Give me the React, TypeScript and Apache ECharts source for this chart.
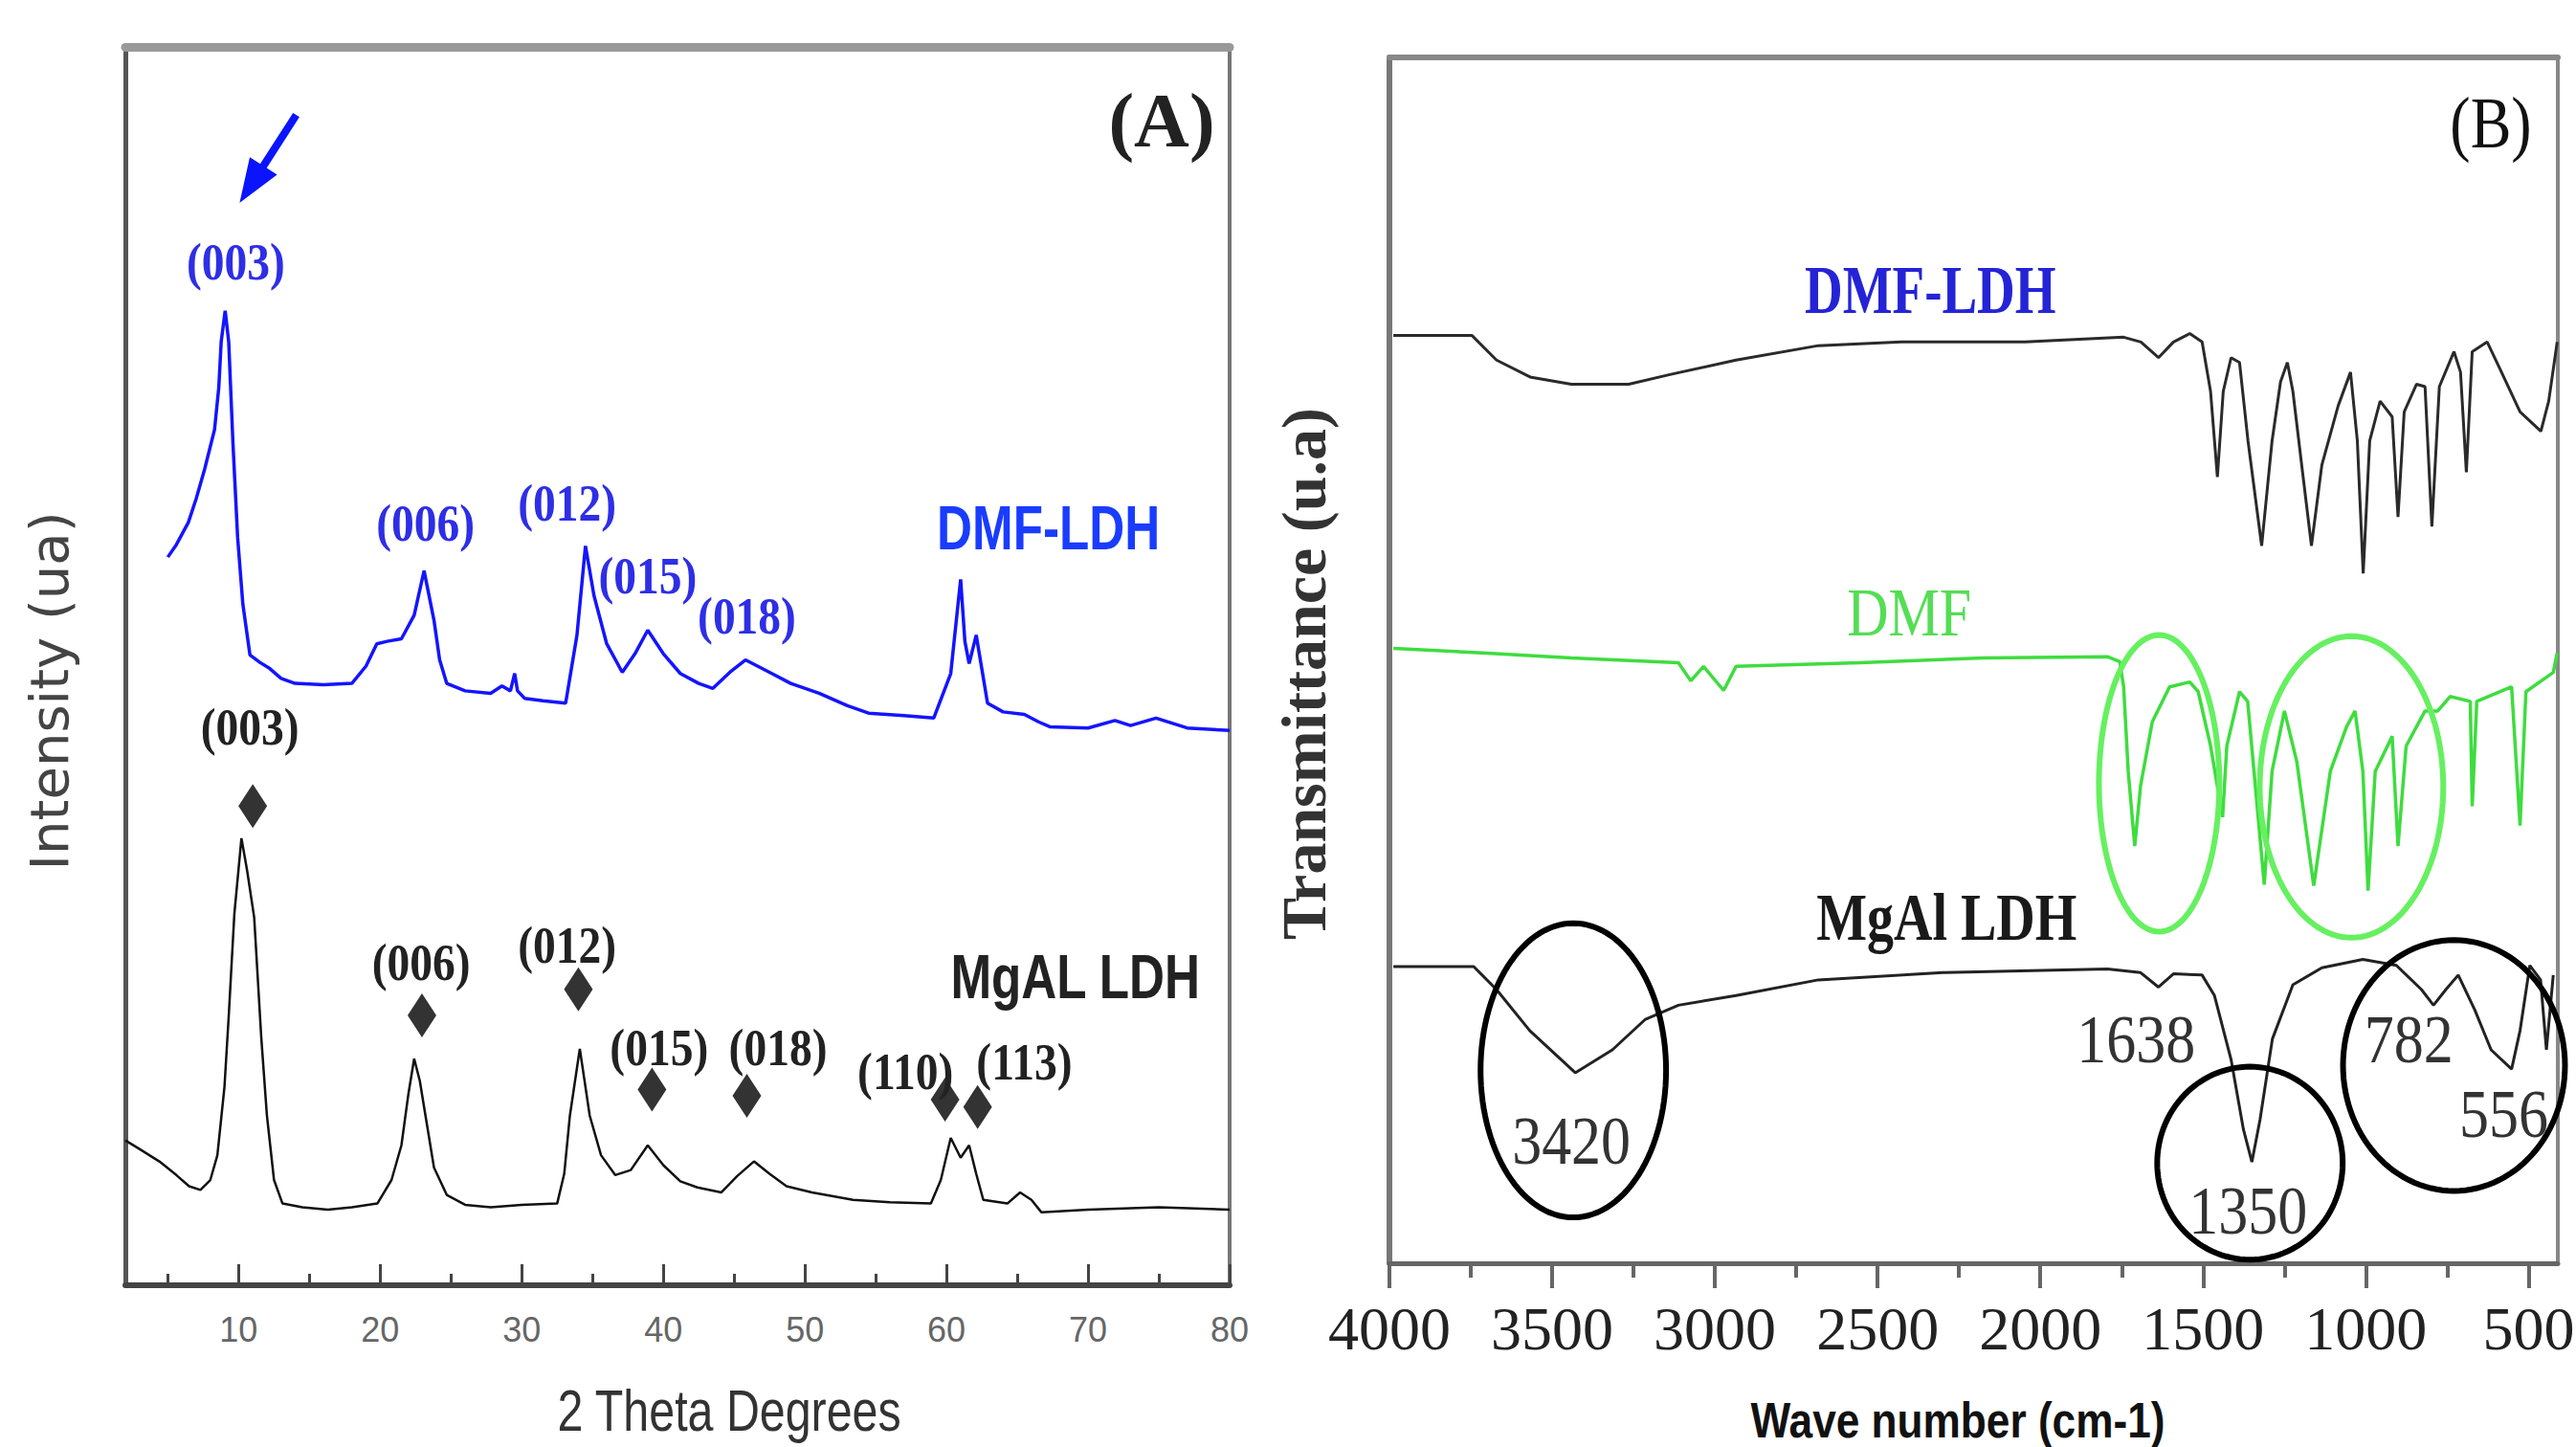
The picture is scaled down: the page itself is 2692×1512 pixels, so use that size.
import React, { useEffect, useRef } from 'react';
import * as echarts from 'echarts';

// ---------------- Panel A : XRD ----------------
const xrdDmfLdh: [number, number][] = [
  [5.0, 58.8], [5.6, 59.8], [6.45, 61.6], [7.0, 63.5], [7.6, 65.9], [8.3, 69.1], [8.6, 72.5], [8.77, 76.2],
  [9.05, 78.7], [9.3, 76.2], [9.6, 68], [9.93, 60.4], [10.3, 55], [10.8, 50.9], [11.5, 50.3], [12.2, 49.8],
  [13.0, 49.0], [13.98, 48.6], [16.0, 48.5], [18.0, 48.6], [19.0, 50.0], [19.76, 51.8], [20.5, 52.0],
  [21.5, 52.2], [22.4, 54.1], [23.1, 57.7], [23.8, 53.7], [24.2, 50.5], [24.7, 48.6], [26.0, 48.0],
  [27.8, 47.8], [28.6, 48.4], [29.2, 48.0], [29.5, 49.4], [29.7, 48.0], [30.2, 47.4], [31.5, 47.2],
  [33.1, 47.0], [33.9, 52.5], [34.5, 59.7], [35.1, 55.7], [36.0, 51.8], [37.1, 49.5], [38.0, 51.0],
  [38.9, 52.9], [40.0, 51.0], [41.2, 49.4], [42.5, 48.6], [43.5, 48.2], [44.7, 49.5], [45.8, 50.5],
  [47.5, 49.5], [49.0, 48.6], [51.0, 47.8], [53.0, 46.8], [54.5, 46.2], [57.0, 46.0], [59.1, 45.8],
  [60.3, 49.4], [61.0, 57.0], [61.3, 52.0], [61.6, 50.2], [62.1, 52.5], [62.9, 47.0], [64.0, 46.3],
  [65.5, 46.1], [66.5, 45.5], [67.3, 45.1], [70.0, 45.0], [71.9, 45.6], [73.0, 45.2], [74.8, 45.8],
  [77.0, 45.0], [80, 44.8],
];
const xrdMgAl: [number, number][] = [
  [2.0, 11.7], [3.0, 11.0], [4.4, 10.0], [5.6, 8.9], [6.5, 8.0], [7.3, 7.7], [8.0, 8.5], [8.5, 10.5],
  [9.0, 16], [9.3, 21.7], [9.7, 30], [10.2, 36.1], [10.6, 33.5], [11.1, 29.7], [11.6, 20], [12.0, 13.7],
  [12.5, 8.5], [13.1, 6.6], [14.5, 6.3], [16.3, 6.1], [18.0, 6.3], [19.8, 6.6], [20.8, 8.5], [21.5, 11.3],
  [22.0, 15.5], [22.4, 18.3], [22.8, 16.5], [23.2, 13.7], [23.8, 9.5], [24.7, 7.3], [26.0, 6.5],
  [27.8, 6.3], [30.0, 6.5], [32.5, 6.6], [33.0, 9.0], [33.4, 13.7], [34.1, 19.1], [34.8, 13.7],
  [35.6, 10.5], [36.6, 8.9], [37.7, 9.3], [38.9, 11.3], [40.0, 9.7], [41.2, 8.4], [42.4, 7.9],
  [44.1, 7.5], [45.2, 8.8], [46.4, 10.0], [47.5, 9.0], [48.7, 8.0], [50.5, 7.5], [53.4, 6.9],
  [56.0, 6.7], [58.9, 6.6], [59.6, 8.5], [60.3, 11.9], [61.0, 10.3], [61.6, 11.3], [62.1, 9.0],
  [62.6, 6.9], [64.3, 6.6], [65.2, 7.5], [66.0, 6.9], [66.7, 5.9], [70, 6.1], [75, 6.3], [80, 6.1],
];
const xrdTicks = [10, 20, 30, 40, 50, 60, 70, 80];
const xrdMinorTicks = [5, 15, 25, 35, 45, 55, 65, 75];
const xrdDiamonds: [number, number][] = [
  [11.0, 38.7], [22.95, 21.8], [34.0, 23.9], [39.2, 15.8], [45.9, 15.3], [59.9, 15.0], [62.2, 14.4],
];
const xrdBlueIndexLabels = ['(003)', '(006)', '(012)', '(015)', '(018)'];
const xrdBlueIndexAnchors: [number, number][] = [
  [9.8, 82.7], [23.2, 61.6], [33.2, 63.2], [38.9, 57.3], [45.9, 54.1],
];
const xrdBlackIndexLabels = ['(003)', '(006)', '(012)', '(015)', '(018)', '(110)', '(113)'];
const xrdBlackIndexAnchors: [number, number][] = [
  [10.8, 45.1], [22.9, 26.1], [33.2, 27.5], [39.7, 19.2], [48.1, 19.2], [57.1, 17.3], [65.5, 18.1],
];
const xrdSampleLabels = ['DMF-LDH', 'MgAL LDH'];
const xrdSampleAnchors: [number, number][] = [[67.2, 61.1], [69.1, 24.9]];
const xrdArrow: [number, number, number, number][] = [[14.07, 94.5, 10.07, 87.4]];

// ---------------- Panel B : FTIR ----------------
const ftirDmfLdh: [number, number][] = [
  [3988, 76.95], [3747, 76.95], [3671, 74.9], [3568, 73.5], [3441, 72.9], [3265, 72.9], [3138, 73.7],
  [2935, 74.9], [2682, 76.1], [2427, 76.4], [2047, 76.4], [1744, 76.8], [1691, 76.4], [1637, 75.1],
  [1591, 76.4], [1541, 77.1], [1503, 76.4], [1477, 72.3], [1456, 65.2], [1438, 72.3], [1414, 75.1],
  [1388, 74.7], [1362, 68.2], [1320, 59.5], [1288, 68.2], [1262, 73.1], [1241, 74.7], [1224, 72.3],
  [1197, 66.2], [1167, 59.5], [1135, 66.2], [1085, 71.1], [1047, 73.9], [1026, 68.2], [1008, 57.2],
  [988, 68.2], [956, 71.5], [919, 70.2], [901, 61.9], [882, 70.6], [844, 72.9], [818, 72.7], [797, 61.1],
  [774, 72.7], [729, 75.6], [709, 73.9], [691, 65.6], [673, 75.6], [627, 76.4], [590, 74.3], [526, 70.6],
  [462, 69.0], [438, 71.5], [412, 76.4],
];
const ftirDmf: [number, number][] = [
  [3988, 51.0], [3700, 50.6], [3441, 50.2], [3112, 49.8], [3074, 48.3], [3035, 49.5], [2973, 47.5],
  [2935, 49.5], [2554, 49.8], [2173, 50.2], [1794, 50.3], [1756, 49.9], [1744, 47.8], [1730, 40.8],
  [1710, 34.6], [1692, 39.6], [1656, 44.9], [1603, 47.8], [1541, 48.2], [1515, 47.4], [1477, 42.9],
  [1440, 37.0], [1427, 42.9], [1388, 47.4], [1363, 46.6], [1312, 31.4], [1288, 40.8], [1250, 45.8],
  [1212, 41.6], [1160, 31.3], [1109, 40.8], [1059, 44.5], [1033, 45.8], [1009, 40.8], [993, 30.9],
  [971, 40.8], [919, 43.7], [901, 34.6], [876, 42.9], [818, 45.8], [779, 45.8], [741, 47.0], [679, 46.6],
  [673, 37.9], [659, 46.6], [552, 47.8], [526, 36.3], [508, 47.4], [424, 49.0], [412, 50.6],
];
const ftirMgAl: [number, number][] = [
  [3988, 24.6], [3741, 24.6], [3671, 22.7], [3569, 19.3], [3429, 15.8], [3315, 17.7], [3215, 20.2],
  [3112, 21.4], [2935, 22.2], [2682, 23.5], [2300, 24.1], [1794, 24.4], [1692, 24.1], [1637, 22.9],
  [1591, 24.0], [1503, 23.9], [1465, 22.2], [1414, 16.9], [1376, 11.1], [1350, 8.4], [1325, 11.9],
  [1287, 18.6], [1224, 23.1], [1135, 24.5], [1009, 25.2], [906, 24.7], [829, 22.7], [792, 21.4],
  [754, 22.7], [716, 23.9], [665, 21.0], [615, 17.7], [552, 16.1], [526, 19.3], [496, 24.7], [463, 23.5],
  [445, 17.7], [424, 23.9],
];
const ftirTicks = [4000, 3500, 3000, 2500, 2000, 1500, 1000, 500];
const ftirMinorTicks = [3750, 3250, 2750, 2250, 1750, 1250, 750];
const ftirBandLabels = ['1638', '3420', '1350', '782', '556'];
const ftirBandAnchors: [number, number][] = [
  [1706, 18.6], [3441, 10.2], [1362, 4.4], [868, 18.6], [576, 12.4],
];
const ftirSampleLabels = ['DMF-LDH', 'DMF', 'MgAl LDH'];
const ftirSampleAnchors: [number, number][] = [[2338, 80.7], [2403, 54.0], [2288, 28.7]];
// ellipses: [centre wavenumber, centre value, half-width (cm-1), half-height]
const ftirGreenEllipses: [number, number, number, number][] = [
  [1635, 39.8, 185, 12.3], [1044, 39.5, 282, 12.5],
];
const ftirBlackEllipses: [number, number, number, number][] = [
  [3435, 16.0, 285, 12.2], [1356, 8.3, 285, 8.0], [729, 16.4, 341, 10.4],
];

const SERIF = "'Liberation Serif', 'Times New Roman', serif";
const SANS = "'Liberation Sans', Arial, sans-serif";

function textLayer(
  xi: number, yi: number, anchors: [number, number][], texts: string[],
  styleFor: (i: number) => any, sx = 1, sy = 1,
) {
  return {
    type: 'custom', coordinateSystem: 'cartesian2d', xAxisIndex: xi, yAxisIndex: yi,
    silent: true, z: 10, clip: false, data: anchors,
    renderItem: (params: any, api: any) => {
      const p = api.coord([api.value(0), api.value(1)]);
      const i = params.dataIndex;
      const st = styleFor(i);
      return {
        type: 'text', x: p[0], y: p[1], scaleX: st.sx ?? sx, scaleY: st.sy ?? sy,
        style: {
          text: texts[i],
          fontSize: st.fontSize, fontFamily: st.fontFamily, fontWeight: st.fontWeight,
          fill: st.fill, align: 'center', verticalAlign: 'middle',
        },
      };
    },
  };
}

function ellipseLayer(xi: number, yi: number, data: [number, number, number, number][], color: string) {
  return {
    type: 'custom', coordinateSystem: 'cartesian2d', xAxisIndex: xi, yAxisIndex: yi,
    silent: true, z: 8, clip: false, data,
    renderItem: (_params: any, api: any) => {
      const cx = api.value(0), cy = api.value(1), rx = api.value(2), ry = api.value(3);
      const c = api.coord([cx, cy]);
      const ex = api.coord([cx + rx, cy]);
      const ey = api.coord([cx, cy + ry]);
      const Rx = Math.abs(ex[0] - c[0]);
      const Ry = Math.abs(ey[1] - c[1]);
      const pts: number[][] = [];
      for (let k = 0; k < 120; k++) {
        const a = (k / 120) * Math.PI * 2;
        pts.push([c[0] + Rx * Math.cos(a), c[1] + Ry * Math.sin(a)]);
      }
      return { type: 'polygon', shape: { points: pts }, style: { fill: 'none', stroke: color, lineWidth: 6 } };
    },
  };
}

export default function App() {
  const ref = useRef<HTMLDivElement>(null);
  useEffect(() => {
    if (!ref.current) return;
    const chart = echarts.init(ref.current, undefined, { renderer: 'svg' });
    const noLabel = { show: false };
    const option: any = {
      animation: false,
      backgroundColor: '#ffffff',
      grid: [
        { left: 131, top: 49, width: 1154, height: 1294, containLabel: false, outerBoundsMode: 'none' },
        { left: 1452, top: 60, width: 1221, height: 1260, containLabel: false, outerBoundsMode: 'none' },
      ],
      xAxis: [
        // 0: A bottom main
        {
          gridIndex: 0, type: 'value', min: 2, max: 80, position: 'bottom',
          axisLine: { onZero: false, lineStyle: { color: '#444', width: 6 } },
          axisTick: { inside: true, length: 22, customValues: xrdTicks, lineStyle: { color: '#444', width: 3 } },
          axisLabel: {
            customValues: xrdTicks, formatter: (v: number) => String(v), color: '#666',
            fontSize: 36, fontFamily: SANS, margin: 28, showMinLabel: true, showMaxLabel: true, hideOverlap: false,
          },
          splitLine: { show: false },
        },
        // 1: A minor ticks
        {
          gridIndex: 0, type: 'value', min: 2, max: 80, position: 'bottom',
          axisLine: { show: false, onZero: false },
          axisTick: { inside: true, length: 12, customValues: xrdMinorTicks, lineStyle: { color: '#444', width: 3 } },
          axisLabel: noLabel, splitLine: { show: false },
        },
        // 2: A top frame
        {
          gridIndex: 0, type: 'value', min: 2, max: 80, position: 'top',
          axisLine: { onZero: false, lineStyle: { color: '#999', width: 9 } },
          axisTick: { show: false }, axisLabel: noLabel, splitLine: { show: false },
        },
        // 3: B bottom main
        {
          gridIndex: 1, type: 'value', min: 410, max: 4000, inverse: true, position: 'bottom',
          axisLine: { onZero: false, lineStyle: { color: '#666', width: 5 } },
          axisTick: { inside: false, length: 26, customValues: ftirTicks, lineStyle: { color: '#666', width: 4 } },
          axisLabel: {
            customValues: ftirTicks, formatter: (v: number) => String(v), color: '#222',
            fontSize: 64, fontFamily: SERIF, margin: 36, showMinLabel: true, showMaxLabel: true, hideOverlap: false,
          },
          splitLine: { show: false },
        },
        // 4: B minor ticks
        {
          gridIndex: 1, type: 'value', min: 410, max: 4000, inverse: true, position: 'bottom',
          axisLine: { show: false, onZero: false },
          axisTick: { inside: false, length: 15, customValues: ftirMinorTicks, lineStyle: { color: '#666', width: 4 } },
          axisLabel: noLabel, splitLine: { show: false },
        },
        // 5: B top frame
        {
          gridIndex: 1, type: 'value', min: 410, max: 4000, inverse: true, position: 'top',
          axisLine: { onZero: false, lineStyle: { color: '#888', width: 6 } },
          axisTick: { show: false }, axisLabel: noLabel, splitLine: { show: false },
        },
      ],
      yAxis: [
        {
          gridIndex: 0, type: 'value', min: 0, max: 100, position: 'left',
          axisLine: { show: true, onZero: false, lineStyle: { color: '#555', width: 5 } },
          axisTick: { show: false }, axisLabel: noLabel, splitLine: { show: false },
        },
        {
          gridIndex: 0, type: 'value', min: 0, max: 100, position: 'right',
          axisLine: { show: true, onZero: false, lineStyle: { color: '#777', width: 4 } },
          axisTick: { show: false }, axisLabel: noLabel, splitLine: { show: false },
        },
        {
          gridIndex: 1, type: 'value', min: 0, max: 100, position: 'left',
          axisLine: { show: true, onZero: false, lineStyle: { color: '#777', width: 6 } },
          axisTick: { show: false }, axisLabel: noLabel, splitLine: { show: false },
        },
        {
          gridIndex: 1, type: 'value', min: 0, max: 100, position: 'right',
          axisLine: { show: true, onZero: false, lineStyle: { color: '#888', width: 4 } },
          axisTick: { show: false }, axisLabel: noLabel, splitLine: { show: false },
        },
      ],
      series: [
        {
          type: 'line', name: 'DMF-LDH', xAxisIndex: 0, yAxisIndex: 0, data: xrdDmfLdh,
          showSymbol: false, symbol: 'none', lineStyle: { color: '#1414ff', width: 3.5 }, z: 3,
        },
        {
          type: 'line', name: 'MgAL LDH', xAxisIndex: 0, yAxisIndex: 0, data: xrdMgAl,
          showSymbol: false, symbol: 'none', lineStyle: { color: '#111', width: 2.5 }, z: 3,
        },
        {
          type: 'scatter', xAxisIndex: 0, yAxisIndex: 0, data: xrdDiamonds, symbol: 'diamond',
          symbolSize: [30, 46], itemStyle: { color: '#000' }, silent: true, z: 5,
        },
        textLayer(0, 0, xrdBlueIndexAnchors, xrdBlueIndexLabels, () => ({
          fontSize: 50, fontFamily: SERIF, fontWeight: 'bold', fill: '#2e2ee6',
        }), 0.95, 1.1),
        textLayer(0, 0, xrdBlackIndexAnchors, xrdBlackIndexLabels, () => ({
          fontSize: 50, fontFamily: SERIF, fontWeight: 'bold', fill: '#222',
        }), 0.95, 1.1),
        textLayer(0, 0, xrdSampleAnchors, xrdSampleLabels, (i) => ({
          fontSize: 64, fontFamily: SANS, fontWeight: 'bold', fill: i === 0 ? '#1a3cff' : '#222',
        }), 0.8, 1.0),
        {
          type: 'custom', coordinateSystem: 'cartesian2d', xAxisIndex: 0, yAxisIndex: 0,
          silent: true, z: 9, clip: false, data: xrdArrow,
          renderItem: (_p: any, api: any) => {
            const t = api.coord([api.value(0), api.value(1)]);
            const h = api.coord([api.value(2), api.value(3)]);
            const dx = h[0] - t[0], dy = h[1] - t[1];
            const L = Math.hypot(dx, dy);
            const ux = dx / L, uy = dy / L;
            const headLen = 46, headW = 17;
            const bx = h[0] - ux * headLen, by = h[1] - uy * headLen;
            return {
              type: 'group',
              children: [
                { type: 'line', shape: { x1: t[0], y1: t[1], x2: bx + ux * 4, y2: by + uy * 4 }, style: { stroke: '#0a14ff', lineWidth: 8 } },
                {
                  type: 'polygon',
                  shape: { points: [[h[0], h[1]], [bx - uy * headW, by + ux * headW], [bx + uy * headW, by - ux * headW]] },
                  style: { fill: '#0a14ff' },
                },
              ],
            };
          },
        },
        // Panel B
        {
          type: 'line', name: 'DMF-LDH', xAxisIndex: 3, yAxisIndex: 2, data: ftirDmfLdh,
          showSymbol: false, symbol: 'none', lineStyle: { color: '#2a2a2a', width: 3 }, z: 3,
        },
        {
          type: 'line', name: 'DMF', xAxisIndex: 3, yAxisIndex: 2, data: ftirDmf,
          showSymbol: false, symbol: 'none', lineStyle: { color: '#3fdc3f', width: 3.5 }, z: 3,
        },
        {
          type: 'line', name: 'MgAl LDH', xAxisIndex: 3, yAxisIndex: 2, data: ftirMgAl,
          showSymbol: false, symbol: 'none', lineStyle: { color: '#222', width: 3 }, z: 3,
        },
        ellipseLayer(3, 2, ftirGreenEllipses, '#66f060'),
        ellipseLayer(3, 2, ftirBlackEllipses, '#000000'),
        textLayer(3, 2, ftirSampleAnchors, ftirSampleLabels, (i) => (
          i === 0 ? { fontSize: 55, fontFamily: SERIF, fontWeight: 'bold', fill: '#2424d6', sy: 1.3 }
            : i === 1 ? { fontSize: 60, fontFamily: SERIF, fontWeight: 'normal', fill: '#55dd55', sy: 1.2 }
              : { fontSize: 56, fontFamily: SERIF, fontWeight: 'bold', fill: '#1a1a1a', sy: 1.25 }
        )),
        textLayer(3, 2, ftirBandAnchors, ftirBandLabels, () => ({
          fontSize: 62, fontFamily: SERIF, fontWeight: 'normal', fill: '#333',
        }), 1, 1.15),
      ],
      graphic: [
        {
          type: 'text', x: 1214, y: 126, silent: true,
          style: { text: '(A)', fontSize: 80, fontFamily: SERIF, fontWeight: 'bold', fill: '#222', align: 'center', verticalAlign: 'middle' },
        },
        {
          type: 'text', x: 2603, y: 128, scaleY: 1.2, silent: true,
          style: { text: '(B)', fontSize: 64, fontFamily: SERIF, fontWeight: 'normal', fill: '#111', align: 'center', verticalAlign: 'middle' },
        },
        {
          type: 'text', x: 51, y: 722, rotation: Math.PI / 2, silent: true,
          style: { text: 'Intensity (ua)', fontSize: 56, fontFamily: "'DejaVu Sans', sans-serif", fill: '#444', align: 'center', verticalAlign: 'middle' },
        },
        {
          type: 'text', x: 762, y: 1474, scaleX: 0.78, silent: true,
          style: { text: '2 Theta Degrees', fontSize: 62, fontFamily: SANS, fill: '#333', align: 'center', verticalAlign: 'middle' },
        },
        {
          type: 'text', x: 1362, y: 704, rotation: Math.PI / 2, silent: true,
          style: { text: 'Transmittance (u.a)', fontSize: 66, fontFamily: SERIF, fontWeight: 'bold', fill: '#333', align: 'center', verticalAlign: 'middle' },
        },
        {
          type: 'text', x: 2046, y: 1484, scaleX: 0.85, silent: true,
          style: { text: 'Wave number (cm-1)', fontSize: 52, fontFamily: SANS, fontWeight: 'bold', fill: '#111', align: 'center', verticalAlign: 'middle' },
        },
      ],
    };
    chart.setOption(option);
    return () => chart.dispose();
  }, []);
  return (
    <div
      ref={ref}
      style={{ position: 'fixed', left: 0, top: 0, width: '2692px', height: '1512px', background: '#fff' }}
    />
  );
}
